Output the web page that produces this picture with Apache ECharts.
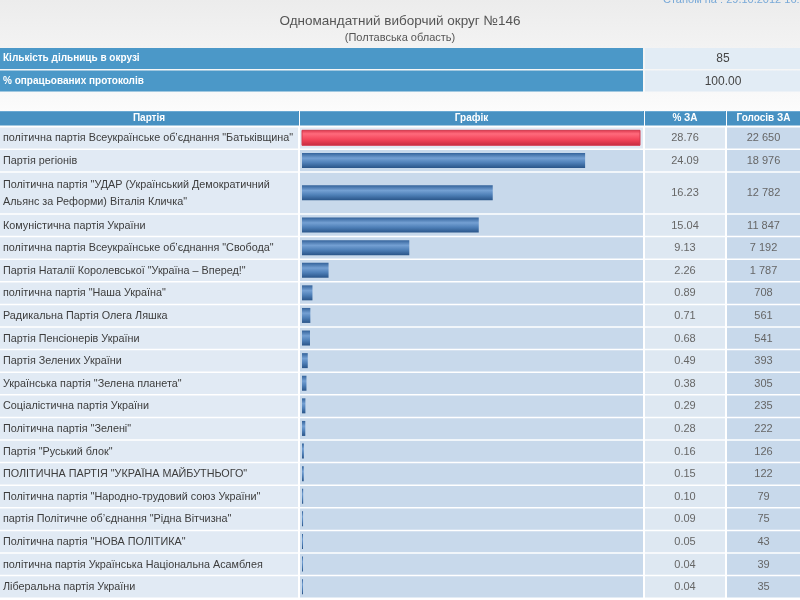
<!DOCTYPE html>
<html><head><meta charset="utf-8">
<script src="https://cdn.jsdelivr.net/npm/echarts/dist/echarts.min.js"></script>
<style>
html,body{margin:0;padding:0;width:800px;height:600px;overflow:hidden;background:linear-gradient(#ececec 0px,#f3f3f3 50px,#fafafa 100px,#ffffff 130px);}
#c{width:800px;height:600px;}
</style>
</head><body><div id="c"></div>
<script>
// ---- data ----
const titleText = 'Одномандатний виборчий округ №146';
const subtitleText = '(Полтавська область)';
const stampText = 'Станом на : 29.10.2012 16:02:25';
const infoLabels = ['Кількість дільниць в окрузі', '% опрацьованих протоколів'];
const infoValues = ['85', '100.00'];
const headers = ['Партія', 'Графік', '% ЗА', 'Голосів ЗА'];
const parties = [
  'політична партія Всеукраїнське об\u2019єднання "Батьківщина"',
  'Партія регіонів',
  'Політична партія "УДАР (Український Демократичний\nАльянс за Реформи) Віталія Кличка"',
  'Комуністична партія України',
  'політична партія Всеукраїнське об\u2019єднання "Свобода"',
  'Партія Наталії Королевської "Україна \u2013 Вперед!"',
  'політична партія "Наша Україна"',
  'Радикальна Партія Олега Ляшка',
  'Партія Пенсіонерів України',
  'Партія Зелених України',
  'Українська партія "Зелена планета"',
  'Соціалістична партія України',
  'Політична партія "Зелені"',
  'Партія "Руський блок"',
  'ПОЛІТИЧНА ПАРТІЯ "УКРАЇНА МАЙБУТНЬОГО"',
  'Політична партія "Народно-трудовий союз України"',
  'партія Політичне об\u2019єднання "Рідна Вітчизна"',
  'Політична партія "НОВА ПОЛІТИКА"',
  'політична партія Українська Національна Асамблея',
  'Ліберальна партія України'
];
const pctValues = [28.76, 24.09, 16.23, 15.04, 9.13, 2.26, 0.89, 0.71, 0.68, 0.49, 0.38, 0.29, 0.28, 0.16, 0.15, 0.10, 0.09, 0.05, 0.04, 0.04];
const voteValues = [22650, 18976, 12782, 11847, 7192, 1787, 708, 561, 541, 393, 305, 235, 222, 126, 122, 79, 75, 43, 39, 35];

// ---- layout / style ----
const COLS = [[0, 298], [300, 643], [645, 725], [727, 800]];
const TABLE_TOP = 126.5;
const SLOT_PX = 22.6;
const EXTRA_LINE = 0.86;
const FONT = '"Liberation Sans", Arial, sans-serif';
const HEAD_BLUE = '#4791c2';
const INFO_BLUE = '#4b98c8';

const spans = parties.map(p => 1 + (p.split('\n').length - 1) * EXTRA_LINE);
const starts = [];
spans.reduce((acc, s, i) => { starts[i] = acc; return acc + s; }, 0);
const totalSlots = spans.reduce((a, b) => a + b, 0);
const maxPct = Math.max(...pctValues);

function fmtVotes(v) { return String(v).replace(/\B(?=(\d{3})+(?!\d))/g, ' '); }

const rowData = parties.map((p, i) => [starts[i], spans[i], i]);
const barData = pctValues.map((v, i) => [v, starts[i] + spans[i] / 2, i]);

function cellFill(col, row) {
  if (col === 0) return '#e1eaf4';
  if (col === 1) return row === 0 ? '#e0e9f3' : '#c8d9eb';
  if (col === 2) return '#dee8f2';
  return '#c8d9eb';
}

function renderRow(params, api) {
  const i = api.value(2);
  const start = api.value(0), span = api.value(1);
  const y0 = api.coord([0, start])[1];
  const y1 = api.coord([0, start + span])[1];
  const top = y0 + 1, h = y1 - y0 - 1.5, mid = (y0 + y1) / 2 + 0.5;
  const children = COLS.map((c, k) => ({
    type: 'rect', silent: true,
    shape: { x: api.coord([c[0], start])[0], y: top, width: c[1] - c[0], height: h },
    style: { fill: cellFill(k, i) }
  }));
  children.push({ type: 'text', silent: true, style: {
    x: 3, y: mid, text: parties[i], fill: '#3c3c3c', font: '10.8px ' + FONT,
    align: 'left', verticalAlign: 'middle', lineHeight: 17 } });
  children.push({ type: 'text', silent: true, style: {
    x: (COLS[2][0] + COLS[2][1]) / 2, y: mid, text: pctValues[i].toFixed(2), fill: '#666666',
    font: '11px ' + FONT, align: 'center', verticalAlign: 'middle' } });
  children.push({ type: 'text', silent: true, style: {
    x: (COLS[3][0] + COLS[3][1]) / 2, y: mid, text: fmtVotes(voteValues[i]), fill: '#666666',
    font: '11px ' + FONT, align: 'center', verticalAlign: 'middle' } });
  return { type: 'group', children };
}

const redGrad = new echarts.graphic.LinearGradient(0, 0, 0, 1, [
  { offset: 0, color: '#d9344a' }, { offset: 0.25, color: '#ff6a7c' },
  { offset: 0.6, color: '#f4465b' }, { offset: 1, color: '#c42a3e' }]);
const blueGrad = new echarts.graphic.LinearGradient(0, 0, 0, 1, [
  { offset: 0, color: '#33629a' }, { offset: 0.35, color: '#74a0d3' },
  { offset: 0.65, color: '#4f80b8' }, { offset: 1, color: '#2a5589' }]);

function renderBar(params, api) {
  const i = api.value(2);
  const p0 = api.coord([0, api.value(1)]);
  const p1 = api.coord([api.value(0), api.value(1)]);
  const w = Math.max(1, p1[0] - p0[0]);
  return { type: 'rect', shape: { x: p0[0], y: p0[1] - 7.5, width: w, height: 15 },
    style: { fill: i === 0 ? redGrad : blueGrad, stroke: i === 0 ? '#d23a4e' : null, lineWidth: i === 0 ? 1 : 0 } };
}

// header + info graphics
const graphics = [];
graphics.push({ type: 'text', left: 663, top: -6, style: { text: stampText, fill: '#78a9d8', font: '11px ' + FONT } });
infoLabels.forEach((lab, k) => {
  const y = 48 + k * 22.5;
  graphics.push({ type: 'rect', shape: { x: 0, y: y, width: 643, height: 21 }, style: { fill: INFO_BLUE } });
  graphics.push({ type: 'rect', shape: { x: 645, y: y, width: 155, height: 21 }, style: { fill: '#e2ecf5' } });
  graphics.push({ type: 'text', style: { x: 3, y: y + 10.5, text: lab, fill: '#ffffff', font: 'bold 10px ' + FONT, verticalAlign: 'middle' } });
  graphics.push({ type: 'text', style: { x: 723, y: y + 11, text: infoValues[k], fill: '#444444', font: '12px ' + FONT, align: 'center', verticalAlign: 'middle' } });
});
headers.forEach((hd, k) => {
  const c = COLS[k];
  graphics.push({ type: 'rect', shape: { x: c[0], y: 111, width: c[1] - c[0] + (k < 3 ? 1 : 0), height: 14.5 }, style: { fill: HEAD_BLUE } });
  graphics.push({ type: 'rect', shape: { x: c[0], y: 111, width: c[1] - c[0], height: 1 }, style: { fill: '#6aa9d3' } });
  graphics.push({ type: 'text', style: { x: (c[0] + c[1]) / 2, y: 118.5, text: hd, fill: '#ffffff', font: 'bold 10px ' + FONT, align: 'center', verticalAlign: 'middle' } });
});

const chart = echarts.init(document.getElementById('c'), null, { renderer: 'canvas' });
chart.setOption({
  animation: false,
  title: { text: titleText, subtext: subtitleText, left: 'center', top: 9, itemGap: 4,
    textStyle: { fontSize: 13.5, fontWeight: 'normal', color: '#555555', fontFamily: FONT },
    subtextStyle: { fontSize: 11, color: '#555555', fontFamily: FONT } },
  grid: [
    { left: 0, top: TABLE_TOP, width: 800, height: totalSlots * SLOT_PX, containLabel: false },
    { left: 302, top: TABLE_TOP, width: 338, height: totalSlots * SLOT_PX, containLabel: false }
  ],
  xAxis: [
    { type: 'value', gridIndex: 0, min: 0, max: 800, show: false },
    { type: 'value', gridIndex: 1, min: 0, max: maxPct, show: false }
  ],
  yAxis: [
    { type: 'value', gridIndex: 0, min: 0, max: totalSlots, inverse: true, show: false },
    { type: 'value', gridIndex: 1, min: 0, max: totalSlots, inverse: true, show: false }
  ],
  graphic: graphics,
  series: [
    { type: 'custom', name: 'rows', xAxisIndex: 0, yAxisIndex: 0, data: rowData,
      encode: { y: 0 }, renderItem: renderRow, clip: false, silent: true, z: 1 },
    { type: 'custom', name: '% ЗА', xAxisIndex: 1, yAxisIndex: 1, data: barData,
      encode: { x: 0, y: 1 }, renderItem: renderBar, clip: false, z: 2 }
  ]
});
</script>
</body></html>
